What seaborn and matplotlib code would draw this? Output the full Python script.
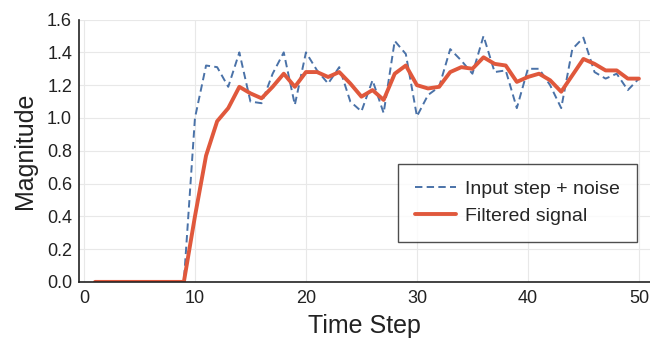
import numpy as np
import pandas as pd
import matplotlib
matplotlib.use("Agg")
import matplotlib.pyplot as plt
import seaborn as sns

time_step = list(range(1, 51))
input_noise = [0, 0, 0, 0, 0, 0, 0, 0, 0,
               1.00, 1.32, 1.31, 1.19, 1.40, 1.10, 1.09, 1.27, 1.40, 1.08, 1.40,
               1.29, 1.21, 1.31, 1.10, 1.04, 1.23, 1.03, 1.47, 1.39, 1.01,
               1.14, 1.19, 1.42, 1.35, 1.27, 1.50, 1.28, 1.29, 1.06, 1.30,
               1.30, 1.20, 1.06, 1.42, 1.49, 1.28, 1.24, 1.27, 1.17, 1.24]
filtered = [0, 0, 0, 0, 0, 0, 0, 0, 0,
            0.40, 0.77, 0.98, 1.06, 1.19, 1.15, 1.12, 1.19, 1.27, 1.19, 1.28,
            1.28, 1.25, 1.28, 1.21, 1.13, 1.17, 1.11, 1.27, 1.32, 1.20,
            1.18, 1.19, 1.28, 1.31, 1.30, 1.37, 1.33, 1.32, 1.22, 1.25,
            1.27, 1.23, 1.16, 1.26, 1.36, 1.33, 1.29, 1.29, 1.24, 1.24]
xticks = [0, 10, 20, 30, 40, 50]
yticks = [0.0, 0.2, 0.4, 0.6, 0.8, 1.0, 1.2, 1.4, 1.6]

df = pd.DataFrame({"t": time_step, "input": input_noise, "filtered": filtered})

sns.set_theme(style="whitegrid")
plt.rcParams['font.family'] = ['Liberation Sans', 'DejaVu Sans']

fig = plt.figure(figsize=(6.5, 3.38), dpi=100)
ax = fig.add_axes([0.1215, 0.166, 0.8785, 0.776])

sns.lineplot(data=df, x="t", y="input", ax=ax, color="#4a72a8", lw=1.4,
             dashes=False, label="Input step + noise")
ax.lines[-1].set_linestyle((0, (3.8, 2.2)))
sns.lineplot(data=df, x="t", y="filtered", ax=ax, color="#e0583c", lw=2.8,
             label="Filtered signal")

ax.set_xlim(-0.45, 51.0)
ax.set_ylim(0.0, 1.6)
ax.set_xticks(xticks)
ax.set_yticks(yticks)
ax.set_yticklabels([f"{v:.1f}" for v in yticks])
ax.grid(True, color="#e8e8e8", lw=0.8)
for s in ["top", "right"]:
    ax.spines[s].set_visible(False)
for s in ["left", "bottom"]:
    ax.spines[s].set_color("#222222")
    ax.spines[s].set_linewidth(1.2)
ax.tick_params(axis="both", direction="in", length=4, width=1.0, color="#222222",
               labelsize=13, labelcolor="#222222")
ax.tick_params(axis="x", pad=6)
ax.tick_params(axis="y", pad=5)
ax.set_xlabel("Time Step", fontsize=18, color="#222222", labelpad=5)
ax.set_ylabel("Magnitude", fontsize=18, color="#222222", labelpad=7)

leg = ax.legend(loc="lower right", bbox_to_anchor=(0.977, 0.153), fontsize=14,
                frameon=True, fancybox=False, edgecolor="#222222",
                handlelength=2.1, handletextpad=0.5, borderpad=0.85,
                labelspacing=0.5, borderaxespad=0)
leg.get_frame().set_linewidth(1.0)

fig.savefig("out.png", dpi=100)
